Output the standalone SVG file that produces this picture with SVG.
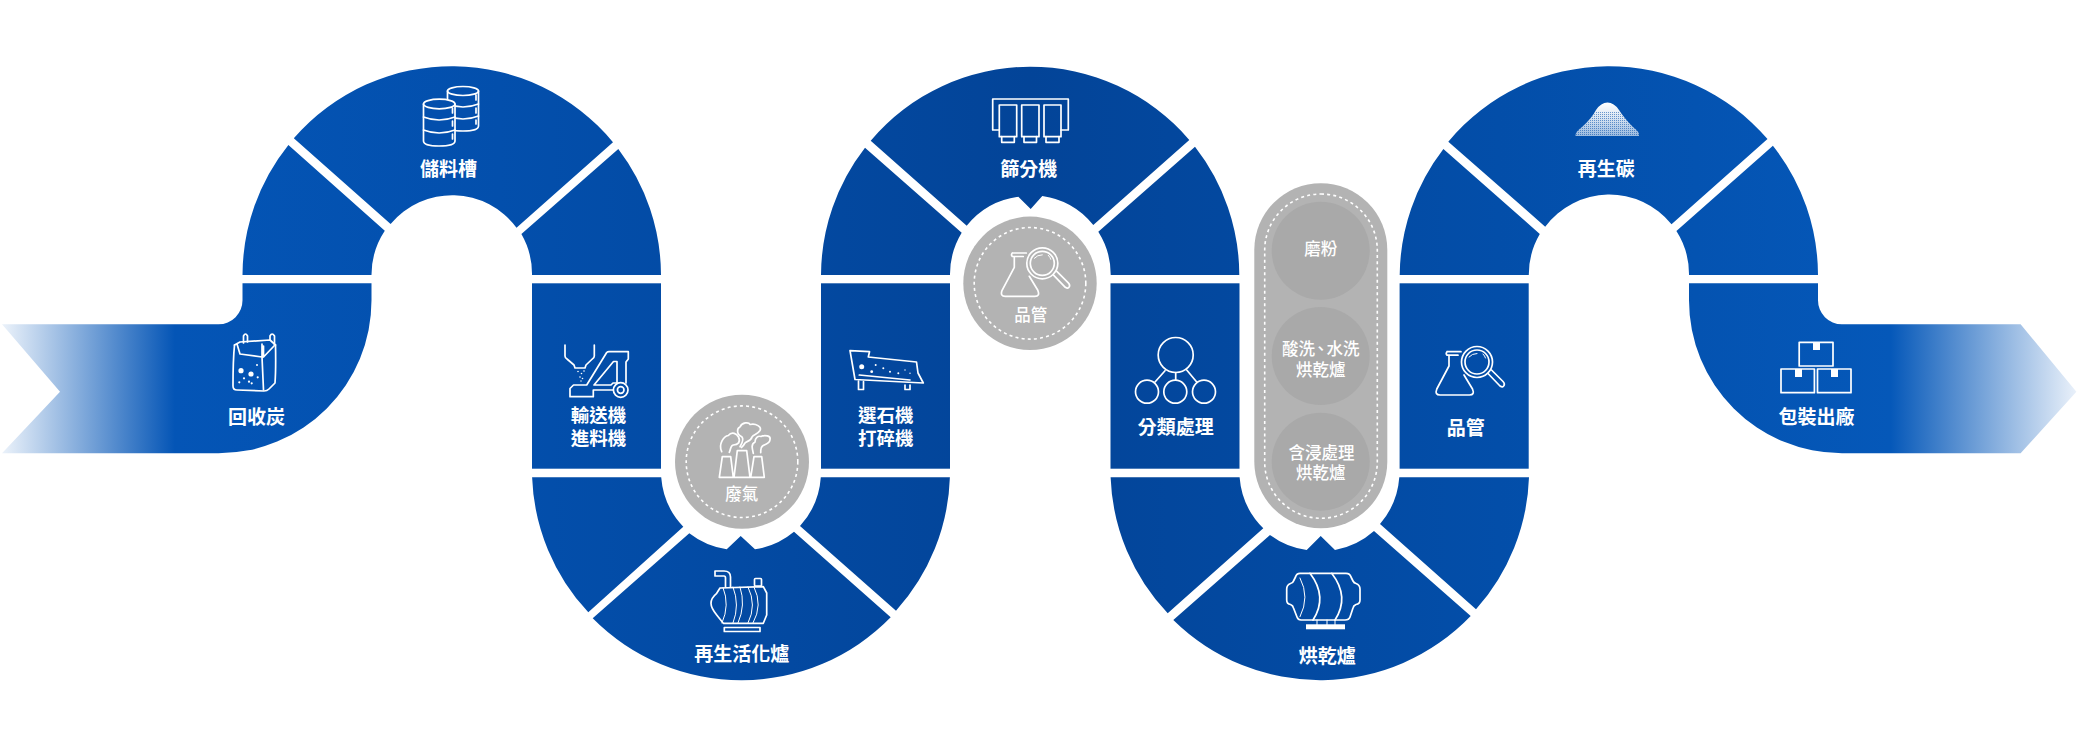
<svg xmlns="http://www.w3.org/2000/svg" width="2080" height="749" viewBox="0 0 2080 749">
<style>
.seg{fill:url(#rib)}
text{font-family:"Noto Sans CJK TC","Noto Sans CJK SC",sans-serif;text-anchor:middle;fill:#fff}
.l{font-size:19px;font-weight:700}
.l2{font-size:18.5px;font-weight:700}
.g{font-size:16.5px;font-weight:500}
.i{fill:none;stroke:#fff;stroke-width:1.7;stroke-linejoin:round;stroke-linecap:round}
.t{stroke-width:1}
.w{fill:#fff}
.badge{fill:#b3b3b3}
.inner{fill:#a9a9a9}
.dash{fill:none;stroke:#fff;stroke-width:1.6;stroke-dasharray:3 3.2}
</style>
<defs>
<linearGradient id="rib" gradientUnits="userSpaceOnUse" x1="0" y1="0" x2="2080" y2="0">
<stop offset="0" stop-color="#eef4fb"/>
<stop offset=".084" stop-color="#0455b6"/>
<stop offset=".24" stop-color="#034fac"/>
<stop offset=".495" stop-color="#034498"/>
<stop offset=".721" stop-color="#034ea9"/>
<stop offset=".909" stop-color="#0558b9"/>
<stop offset=".9986" stop-color="#eaf1fa"/>
</linearGradient>
<linearGradient id="pileg" x1="0" y1="0" x2="0" y2="1">
<stop offset="0" stop-color="#fff"/>
<stop offset=".45" stop-color="#fff" stop-opacity=".85"/>
<stop offset="1" stop-color="#fff" stop-opacity=".6"/>
</linearGradient>
<pattern id="pilep" patternUnits="userSpaceOnUse" width="2" height="2">
<rect width="1" height="1" fill="#034fab"/>
</pattern>
<g id="qc">
<path class="i" d="M1447,351.7 H1461 M1447,351.7 Q1445.5,353.5 1447,355.2 H1458"/>
<path class="i" d="M1449,355.5 V366 L1436.8,389 Q1434.5,395 1440,395 H1469.5 Q1475,395 1472.5,389 L1464,375"/>
<circle class="i" cx="1477" cy="362" r="15.5"/>
<circle class="i" cx="1477" cy="362" r="12"/>
<path class="i t" d="M1469,357 Q1472,353.5 1477,353.5 M1483,354 Q1485,356 1485.5,358"/>
<path class="i" d="M1488,373.5 L1500,386 Q1503,388 1504,385.5 Q1505,383.5 1503,381.5 L1491.5,370"/>
</g>
</defs>
<rect width="2080" height="749" fill="#fff"/>

<g id="step-recycled-carbon">
<path class="seg" d="M2,324.3 H218.5 A24,24 0 0 0 242.5,300 V283.3 H371.5 V300 A153,153 0 0 1 218.5,453.3 H2 L60,391.7 Z"/>
<g>
<path class="i" d="M234.5,345 C233,360 233,375 233,386 Q233,390 237,390 L264,391 Q267,391 269,389 L275,383 Q276,370 275.5,345"/>
<path class="i" d="M262,357 L263.5,390 M234.5,345 L240,342 L270,340 L275.5,345 M237,344 L240,354 L262,357 L262,344 M263.5,357 L274,346 M263.5,346 V357"/>
<path class="i" d="M243.5,343 V336 Q245.5,332 247.5,336 V342 M270,340 V336 Q272,332 274.5,336 V345"/>
<circle class="w" cx="241" cy="370.7" r="2.6"/><circle class="w" cx="251" cy="374" r="2.6"/>
<circle class="w" cx="239.3" cy="382.3" r="1.1"/><circle class="w" cx="249" cy="381.7" r="1.1"/><circle class="w" cx="244" cy="378.3" r="1.1"/><circle class="w" cx="257.7" cy="377.3" r="1.1"/><circle class="w" cx="251.7" cy="383.3" r="1.1"/><circle class="w" cx="257" cy="365" r="1"/>
</g>
<text class="l" x="256.5" y="423.5">回收炭</text>
</g>

<g id="arch1-left"><path class="seg" d="M242.5,275 A209,209 0 0 1 288.4,145 L384.8,230.7 A80,80 0 0 0 371.5,275 Z"/></g>
<g id="step-storage">
<path class="seg" d="M293.8,138.3 A209,209 0 0 1 613,142.3 L516.5,227.7 A80,80 0 0 0 390.6,224 Z"/>
<g>
<path class="i" style="fill:#034fad" d="M447.5,91 A15.5,4.5 0 0 1 478.5,91 V126 Q478.5,131 463,131 Q447.5,131 447.5,126 Z"/>
<path class="i" d="M447.5,91 A15.5,4.5 0 0 0 478.5,91 M447.5,104 Q463,110 478.5,104 M447.5,116 Q463,122 478.5,116 M476,95 V100 M476,108 V113 M476,120 V124"/>
<path class="i" style="fill:#034fad" d="M423.5,104 A15.75,4.8 0 0 1 455,104 V141 Q455,146 439,146 Q423.5,146 423.5,141 Z"/>
<path class="i" d="M423.5,104 A15.75,4.8 0 0 0 455,104 M423.5,117 Q439,123 455,117 M423.5,130 Q439,136 455,130 M452.5,108 V113 M452.5,121 V126 M452.5,134 V139"/>
</g>
<text class="l" x="448.5" y="175.5">儲料槽</text>
</g>
<g id="arch1-right"><path class="seg" d="M618.3,149 A209,209 0 0 1 661,275 L532,275 A80,80 0 0 0 521.4,234 Z"/></g>

<g id="step-conveyor">
<rect class="seg" x="532" y="283.3" width="129" height="185.4"/>
<g>
<path class="i" d="M565,345 V356 Q565,358 567,359 L574,365 L575,368 H585 L586,365 L592.3,359 Q594.3,358 594.3,356 V345"/>
<path class="i" d="M570,396.7 V388.5 L573.5,385 H586.7 L606.7,352.5 Q607.5,351.7 609,351.7 H628.3 V359 L626,362 V383 M570,396.7 H593.3 V390 H613 M594,385 L613.5,361.5 H617 V383 H613 L611,385 H594 Z"/>
<circle class="i" cx="620.7" cy="390" r="7.3"/><circle class="i" cx="620.7" cy="390" r="3.3"/>
<g class="w"><circle cx="578" cy="371.5" r=".8"/><circle cx="581.5" cy="373.5" r=".8"/><circle cx="584" cy="371" r=".8"/><circle cx="580" cy="377" r=".8"/><circle cx="582.5" cy="378.5" r=".8"/><circle cx="581" cy="381" r=".7"/></g>
</g>
<text class="l2"><tspan x="598.5" y="422">輸送機</tspan><tspan x="598.5" y="445">進料機</tspan></text>
</g>

<g id="arch2-left"><path class="seg" d="M532.1,477.3 A209,209 0 0 0 588.3,612.3 L683.3,526.7 A80,80 0 0 1 661.2,477.3 Z"/></g>
<g id="step-reactivation">
<path class="seg" d="M592.7,618.3 A209,209 0 0 0 890.7,617.3 L794,531.7 A80,80 0 0 1 755,549.3 L740.7,536 L726.7,549.3 A80,80 0 0 1 689.3,533.3 Z"/>
<g>
<path class="i" d="M715,571 H724 Q730.5,571 730.5,577 V587 M715,576 H724 Q725.5,576 725.5,578 V587 M715,571 V576"/>
<rect class="i" x="754.5" y="578.5" width="7" height="7.5" rx="1"/>
<path class="i" d="M720,588 L763.3,586.7 L766.7,593 V615 L763.3,623.3 H723.3 L716.7,615 Q711,608 711,603.3 Q711,598 716.7,593.3 Z"/>
<path class="i t" d="M723,587.5 Q730,605 722,623 M733,587 Q740,605 733,623 M740,587 Q746,605 738,623 M748,587 Q757,605 748,623 M754,587 Q763,605 753,623"/>
<rect class="i" x="724.3" y="627.5" width="35.7" height="4"/>
</g>
<text class="l" x="741.7" y="661">再生活化爐</text>
</g>
<g id="arch2-right"><path class="seg" d="M896,610.7 A209,209 0 0 0 949.9,477.3 L820.8,477.3 A80,80 0 0 1 800,526 Z"/></g>

<g id="step-screening">
<rect class="seg" x="821" y="283.3" width="129" height="185.4"/>
<g>
<path class="i" d="M850,350.7 L869.5,351.7 L868.3,357 L916.5,362 L918,373 L923.3,383 L855,379.5 Z"/>
<path class="i" d="M859.3,375 L910,380 M858.5,381 V389.5 H863.5 V381.5 M905,385 V389.5 H910 V385"/>
<g class="w"><circle cx="861.7" cy="366.7" r="2.5"/><circle cx="871.7" cy="371.7" r="1.4"/><circle cx="875.7" cy="365" r="1"/><circle cx="883.3" cy="368.3" r="1"/><circle cx="890" cy="371.7" r="1"/><circle cx="898.3" cy="373.3" r="1"/><circle cx="905" cy="370" r=".7"/><circle cx="910" cy="373.3" r=".7"/></g>
</g>
<text class="l2"><tspan x="885.7" y="422">選石機</tspan><tspan x="885.7" y="445">打碎機</tspan></text>
</g>

<g id="arch3-left"><path class="seg" d="M821,275 A209,209 0 0 1 865,147.7 L961.7,232.7 A80,80 0 0 0 950,275 Z"/></g>
<g id="step-sieve">
<path class="seg" d="M870.7,140.7 A209,209 0 0 1 1189.3,140 L1093.3,225 A80,80 0 0 0 1042.3,196 L1030.7,209 L1018.3,196.7 A80,80 0 0 0 966.7,225.7 Z"/>
<g>
<path class="i" d="M999.3,130 H992.7 V99 H1068.3 V130 H1061"/>
<rect class="i" x="999.3" y="105" width="17.4" height="31.7" /><rect class="i" x="1021.7" y="105" width="17.3" height="31.7"/><rect class="i" x="1044" y="105" width="17" height="31.7"/>
<path class="i" d="M1001.7,136.7 V142.3 H1014.3 V136.7 M1024,136.7 V142.3 H1036.5 V136.7 M1046,136.7 V142.3 H1059 V136.7"/>
</g>
<text class="l" x="1028.7" y="175.5">篩分機</text>
</g>
<g id="arch3-right"><path class="seg" d="M1195,146.7 A209,209 0 0 1 1239.3,275 L1110.7,275 A80,80 0 0 0 1098.3,231.7 Z"/></g>

<g id="step-classify">
<rect class="seg" x="1110.5" y="283.3" width="129" height="185.4"/>
<g>
<circle class="i" cx="1175.7" cy="355" r="17.5"/>
<circle class="i" cx="1147" cy="391.7" r="11.5"/><circle class="i" cx="1175.3" cy="391.7" r="11.5"/><circle class="i" cx="1204" cy="391.7" r="11.5"/>
<path class="i" d="M1165,370.7 L1155,382 M1175.7,372.7 V380 M1186.7,370 L1196.7,382"/>
</g>
<text class="l" x="1175.7" y="434">分類處理</text>
</g>

<g id="arch4-left"><path class="seg" d="M1110.6,477.3 A209,209 0 0 0 1167.7,613.3 L1263.3,528.3 A80,80 0 0 1 1239.6,477.3 Z"/></g>
<g id="step-dryer">
<path class="seg" d="M1173.3,620 A209,209 0 0 0 1470.7,616 L1374,531 A80,80 0 0 1 1335,550 L1320.7,536 L1306.7,550 A80,80 0 0 1 1270,535 Z"/>
<g>
<path class="i" d="M1300,573.3 H1346 Q1350,573.3 1351,577 L1353,581 Q1354,583 1356,583.5 Q1360,585 1360,589 V600 Q1360,604 1356,604.5 Q1353.5,605.5 1353,608 L1350,617 Q1349,620 1345,620 H1301 Q1298,620 1297,617 L1293.5,608 Q1293,605.5 1290.5,604.5 Q1286.7,604 1286.7,600 V589 Q1286.7,585 1290.5,583.5 Q1293,583 1293.5,581 L1295.5,577 Q1296.5,573.3 1300,573.3 Z"/>
<path class="i" d="M1310,573.3 Q1328,597 1313,620 M1331.7,573.3 Q1350,597 1335,620"/>
<path class="i t" d="M1300,578 Q1310,597 1300,616.7 M1317,620 V625 M1327,620 V625 M1335,620 V625"/>
<rect class="w" x="1306" y="624.3" width="39" height="5"/>
</g>
<text class="l" x="1327.3" y="662.5">烘乾爐</text>
</g>
<g id="arch4-right"><path class="seg" d="M1476,609.3 A209,209 0 0 0 1529,477.3 L1399.3,477.3 A80,80 0 0 1 1380,524 Z"/></g>

<g id="step-qc">
<rect class="seg" x="1399.6" y="283.3" width="129.1" height="185.4"/>
<use href="#qc"/>
<text class="l" x="1465.7" y="434.5">品管</text>
</g>

<g id="arch5-left"><path class="seg" d="M1399.7,275 A209,209 0 0 1 1443.4,149 L1539.8,234 A80,80 0 0 0 1528.8,275 Z"/></g>
<g id="step-regenerated">
<path class="seg" d="M1448.3,141.7 A209,209 0 0 1 1767.5,139 L1671.5,224.3 A80,80 0 0 0 1545.2,226.7 Z"/>
<path d="M1575.5,136 Q1575,132 1582,127 Q1592,118 1596,110 Q1601,102.5 1607.5,102.5 Q1614,102.5 1619,110 Q1624,118 1633,127 Q1640,132 1639,136 Z" fill="url(#pileg)"/>
<path d="M1575.5,136 Q1575,132 1582,127 Q1592,118 1596,112 L1619,112 Q1624,118 1633,127 Q1640,132 1639,136 Z" fill="url(#pilep)" opacity=".55"/>
<text class="l" x="1606.3" y="175.5">再生碳</text>
</g>
<g id="arch5-right"><path class="seg" d="M1772.9,145.7 A209,209 0 0 1 1818,275 L1689,275 A80,80 0 0 0 1676.4,231 Z"/></g>

<g id="step-shipping">
<path class="seg" d="M1689,283.3 H1818 V300 A24,24 0 0 0 1842,324.3 H2020.6 L2076.4,391.7 L2020.6,453.3 H1842 A153,153 0 0 1 1689,300 Z"/>
<g>
<rect class="i" x="1799.2" y="342.3" width="33.8" height="23.7"/>
<rect class="i" x="1781" y="369" width="33.4" height="23.7"/>
<rect class="i" x="1817.5" y="369" width="33.5" height="23.7"/>
<rect class="w" x="1813" y="342" width="7" height="8"/><rect class="w" x="1795" y="369" width="7" height="8"/><rect class="w" x="1831" y="369" width="7" height="8"/>
</g>
<text class="l" x="1816.6" y="423.5">包裝出廠</text>
</g>

<g id="badge-exhaust">
<circle class="badge" cx="742" cy="461.7" r="67"/>
<circle class="dash" cx="742" cy="461.7" r="55.8"/>
<path class="i" d="M719.3,477.3 L722.3,456.7 H730.7 L733.3,477.3 Z M734,477.3 L737.3,450.7 H746.7 L750,477.3 Z M750.7,477.3 L754,456.7 H761.7 L764.3,477.3 M719.3,477.3 H764.3"/>
<path class="i" d="M721.7,451.7 C718,444 724,436 728.3,435.5 C732,431 737,434 738.5,437 C741,442 738,445 733.3,445 C730,446 731,449 729.3,452.3"/>
<path class="i" d="M740,446.7 C743,442 744,439 741.7,436.7 C736,434 737,428 740,427 C742,422 749,422 750,424.5 C756,423 762,427 760,430.5 C757,435 754,434 752,437 C751,441 747,441 745,443 C744,445 743,446 741.5,447.5"/>
<path class="i" d="M753.3,453.3 C752,448 751,444 755,442 C755,438 758,435.5 761,436.5 C765,434.5 771,436 770,439.5 C770,444 765,444 762.5,446 C760,448 761,450 760.7,452.7"/>
<text class="g" x="741.7" y="500">廢氣</text>
</g>

<g id="badge-qc">
<circle class="badge" cx="1030" cy="283.3" r="66.7"/>
<circle class="dash" cx="1030" cy="283.3" r="55.8"/>
<use href="#qc" x="-434.7" y="-98.7"/>
<text class="g" x="1030.7" y="321">品管</text>
</g>

<g id="badge-treatments">
<rect class="badge" x="1254.3" y="183.3" width="133" height="345" rx="66.5"/>
<rect class="dash" x="1264.7" y="194" width="112.6" height="324.3" rx="56.3"/>
<circle class="inner" cx="1320.7" cy="250.7" r="49"/>
<circle class="inner" cx="1320.7" cy="356" r="49"/>
<circle class="inner" cx="1320.7" cy="461.7" r="49"/>
<text class="g" x="1320.7" y="255">磨粉</text>
<text class="g"><tspan x="1320.7" y="354.5">酸洗<tspan dx="-2.5">、</tspan><tspan dx="-2.5">水洗</tspan></tspan><tspan x="1320.7" y="376">烘乾爐</tspan></text>
<text class="g"><tspan x="1321.5" y="458.5">含浸處理</tspan><tspan x="1320.7" y="479">烘乾爐</tspan></text>
</g>
</svg>
